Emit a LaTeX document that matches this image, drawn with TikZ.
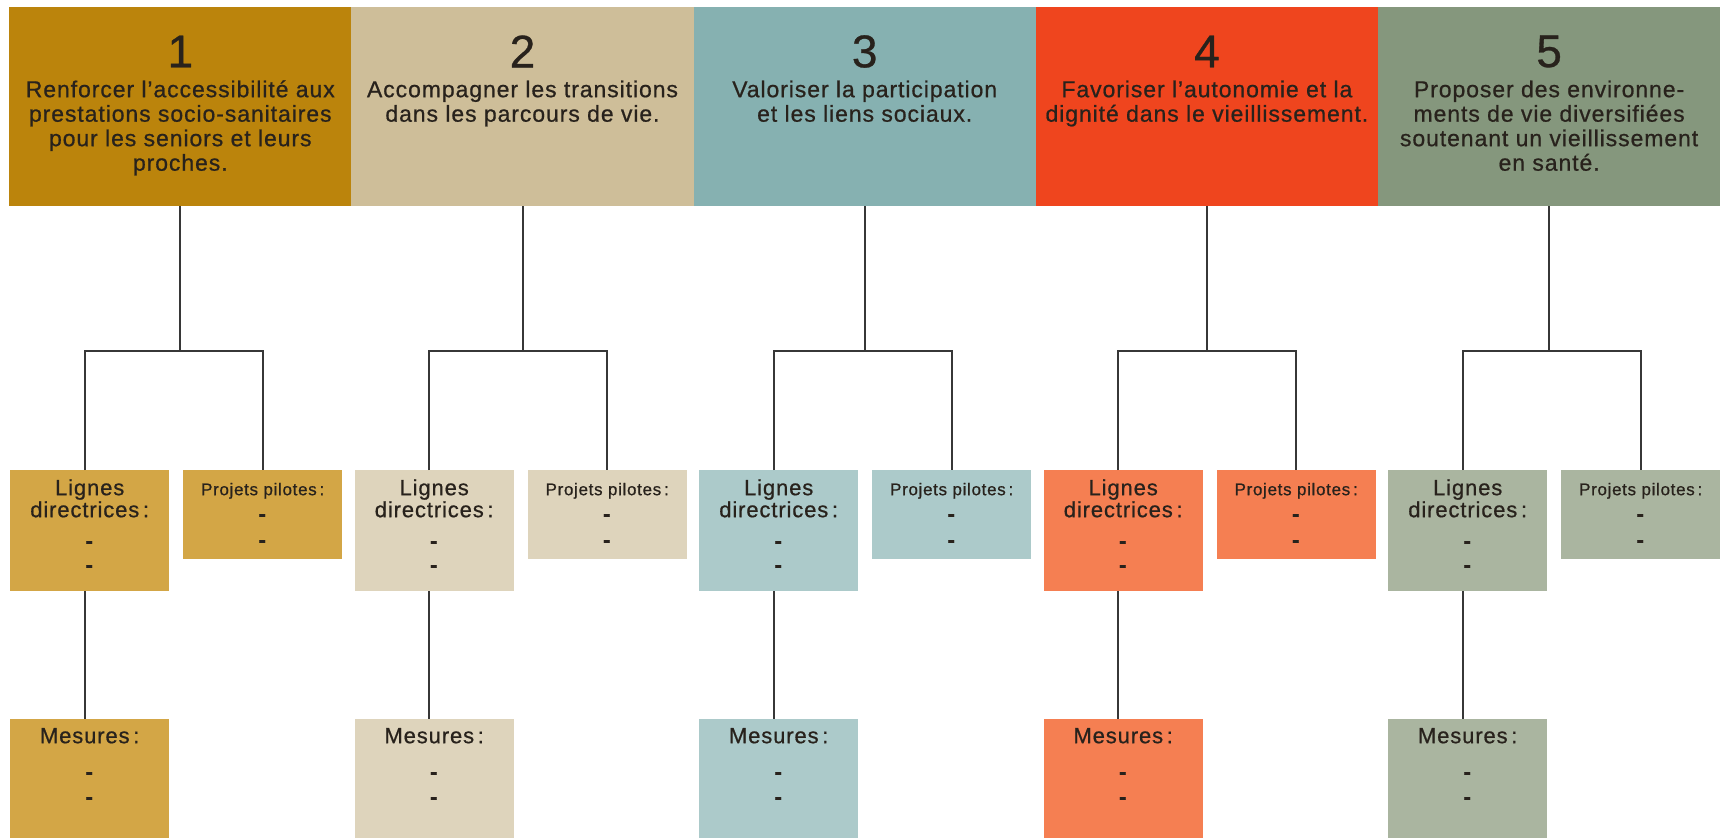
\documentclass[tikz,border=0pt]{standalone}
\usepackage{fontspec}
\setmainfont{Liberation Sans}[LetterSpace=4, FakeBold=0.7]
\usetikzlibrary{positioning}

\definecolor{hd1}{RGB}{187,132,12}
\definecolor{hd2}{RGB}{206,190,153}
\definecolor{hd3}{RGB}{134,177,177}
\definecolor{hd4}{RGB}{239,69,30}
\definecolor{hd5}{RGB}{133,151,125}
\definecolor{bx1}{RGB}{211,166,70}
\definecolor{bx2}{RGB}{222,212,188}
\definecolor{bx3}{RGB}{172,202,202}
\definecolor{bx4}{RGB}{245,127,82}
\definecolor{bx5}{RGB}{170,181,160}
\definecolor{ink}{RGB}{40,34,28}
\definecolor{linkgray}{RGB}{55,55,55}

\begin{document}
\begin{tikzpicture}[
x=1pt, y=-1pt,
headbox/.style={
  minimum width=342.2pt,
  minimum height=199pt,
  inner sep=0pt,
  anchor=north west
  },
subbox/.style={
  minimum width=159pt,
  inner sep=0pt,
  anchor=north west
  },
headnum/.style={font=\fontsize{46}{46}\selectfont, text=ink, inner sep=0pt},
headtext/.style={font=\fontsize{23}{24.5}\selectfont, text=ink, align=center, inner sep=0pt, anchor=north},
boxtext/.style={font=\fontsize{22}{22}\selectfont, text=ink, align=center, inner sep=0pt, anchor=north},
link/.style={draw=linkgray, line width=2pt}
]
\useasboundingbox (0,0) rectangle (1723,838);
\foreach \i/\htext in {
  1/{Renforcer l'accessibilité aux\\prestations socio-sanitaires\\pour les seniors et leurs\\proches.},
  2/{Accompagner les transitions\\dans les parcours de vie.},
  3/{Valoriser la participation\\et les liens sociaux.},
  4/{Favoriser l'autonomie et la\\dignité dans le vieillissement.},
  5/{Proposer des environne-\\ments de vie diversifiées\\soutenant un vieillissement\\en santé.}}
{
  \pgfmathsetmacro\hx{9+342.2*(\i-1)}
  \pgfmathsetmacro\lx{10+344.5*(\i-1)}
  % header of the axis
  \node[headbox, fill=hd\i] (h\i) at (\hx,7) {};
  \node[headnum] (n\i) at (h\i.center |- 0,51.5) {\i};
  \node[headtext] (t\i) at (h\i.center |- 0,76) {\rule{0pt}{21pt}\htext};
  % boxes below
  \node[subbox, fill=bx\i, minimum height=121pt] (l\i) at (\lx,470) {};
  \node[subbox, fill=bx\i, minimum height=89pt] (p\i) at (\lx+173,470) {};
  \node[subbox, fill=bx\i, minimum height=119pt] (m\i) at (\lx,719) {};
  \node[boxtext] (lt\i) at (l\i.center |- 0,475)
    {\rule{0pt}{20pt}Lignes\\directrices\,:\\[9pt]\textbf{-}\\[2pt]\textbf{-}};
  \node[boxtext, font=\fontsize{22}{26}\selectfont] (pt\i) at (p\i.center |- 0,479)
    {\rule{0pt}{16pt}{\fontsize{17}{26}\selectfont Projets pilotes\,:}\\\textbf{-}\\\textbf{-}};
  \node[boxtext] (mt\i) at (m\i.center |- 0,723)
    {\rule{0pt}{20pt}Mesures\,:\\[14pt]\textbf{-}\\[3pt]\textbf{-}};
  % connectors
  \coordinate (j\i) at (h\i.south |- 0,351);
  \draw[link] (h\i.south) -- (j\i);
  \draw[link] ([xshift=-5pt]l\i.north) |- (j\i) -| (p\i.north);
  \draw[link] ([xshift=-5pt]l\i.south) -- ([xshift=-5pt]m\i.north);
}
\end{tikzpicture}
\end{document}
